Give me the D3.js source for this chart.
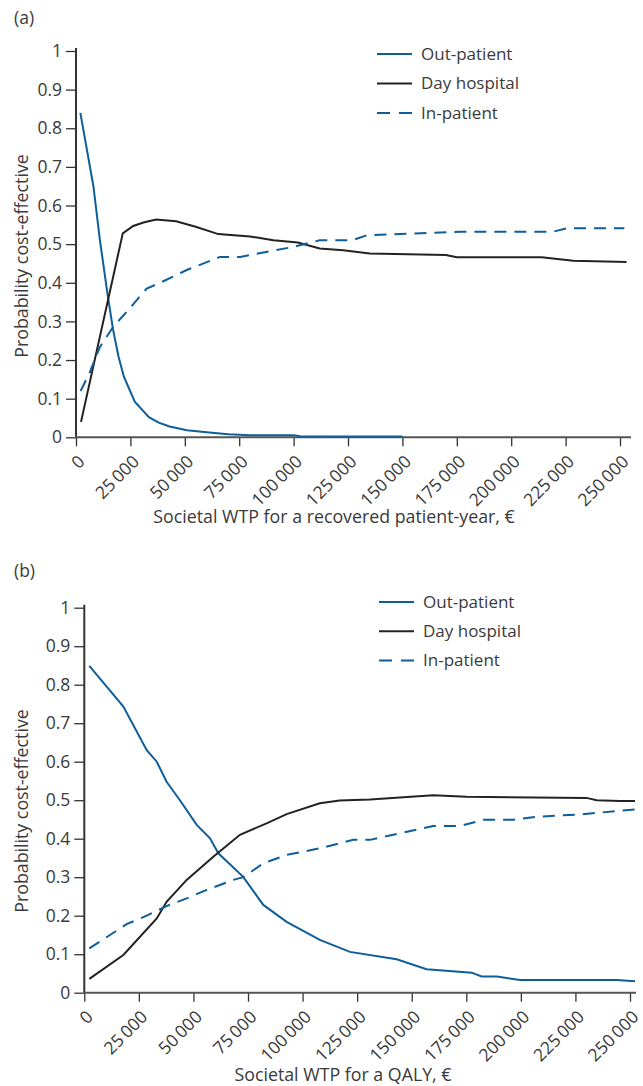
<!DOCTYPE html>
<html><head><meta charset="utf-8">
<script src="https://cdn.jsdelivr.net/npm/d3@7"></script>
<style>
body{margin:0;background:#fff;}
svg{display:block;font-family:"Open Sans",sans-serif;}
</style></head>
<body><svg id="chart" width="643" height="1086"></svg>
<script>
// ---- data ----
const seriesNames = ["Out-patient", "Day hospital", "In-patient"];
const xTicks = [0, 25000, 50000, 75000, 100000, 125000, 150000, 175000, 200000, 225000, 250000];
const yTicks = [0, 0.1, 0.2, 0.3, 0.4, 0.5, 0.6, 0.7, 0.8, 0.9, 1];
const xTitleA = "Societal WTP for a recovered patient-year, €";
const xTitleB = "Societal WTP for a QALY, €";
const yTitle = "Probability cost-effective";

// panel (a): [WTP €, probability]
const outpatientA = [[2000,0.84],[8000,0.65],[11000,0.51],[14500,0.37],[17000,0.28],[19500,0.21],[22000,0.157],[27000,0.092],[33500,0.052],[38000,0.038],[43000,0.028],[51000,0.018],[60000,0.013],[70000,0.008],[80000,0.005],[100000,0.005],[103000,0.003],[150000,0.002]];
const dayHospitalA = [[2300,0.04],[21500,0.528],[26300,0.547],[31000,0.556],[36800,0.564],[46000,0.559],[55000,0.545],[65400,0.526],[80000,0.52],[90700,0.51],[102000,0.504],[112000,0.489],[122800,0.484],[135000,0.476],[170000,0.472],[175000,0.466],[214000,0.466],[228500,0.457],[253000,0.454]];
const inpatientA = [[2100,0.12],[6100,0.165],[11000,0.234],[17100,0.286],[23300,0.325],[32500,0.385],[38600,0.40],[50900,0.433],[66200,0.467],[75400,0.467],[100000,0.493],[112000,0.51],[127000,0.51],[133600,0.523],[176500,0.532],[219000,0.532],[225500,0.541],[252000,0.541]];

// panel (b)
const outpatientB = [[2300,0.849],[17900,0.743],[28600,0.63],[33200,0.60],[37700,0.548],[43800,0.50],[51500,0.436],[57600,0.401],[61400,0.362],[72800,0.301],[82000,0.228],[92700,0.184],[107900,0.137],[121700,0.106],[143100,0.087],[156800,0.061],[177500,0.052],[182000,0.042],[189000,0.042],[199600,0.033],[243900,0.033],[252300,0.030]];
const dayHospitalB = [[2300,0.036],[17900,0.098],[33200,0.193],[37700,0.236],[46900,0.293],[59100,0.353],[71300,0.41],[83500,0.44],[92700,0.464],[107900,0.492],[117000,0.499],[130900,0.502],[159900,0.513],[175100,0.509],[230100,0.506],[234700,0.50],[245400,0.498],[252300,0.498]];
const inpatientB = [[2300,0.115],[19400,0.178],[28600,0.20],[37700,0.225],[46900,0.245],[56100,0.267],[68300,0.293],[72800,0.30],[82000,0.336],[92700,0.358],[107900,0.375],[123200,0.397],[130900,0.397],[159900,0.433],[172100,0.433],[182800,0.449],[196500,0.449],[207200,0.457],[227100,0.463],[252300,0.476]];

// ---- styles ----
const BLUE = "#0d5e9b", BLACK = "#222", TEXT = "#3a3a3a";
const styles = [
  {color: BLUE, dash: null},
  {color: BLACK, dash: null},
  {color: BLUE, dash: "12,8"}
];

const svg = d3.select("#chart");
const fmtX = d => d === 0 ? "0" : d3.format(",")(d).replace(/,/g, "\u2009");
const fmtY = d => d === 0 ? "0" : d === 1 ? "1" : d3.format(".1f")(d);

function drawPanel(p) {
  const g = svg.append("g");
  const x = d3.scaleLinear().domain([0, 250000]).range([p.x0, p.x1]);
  const y = d3.scaleLinear().domain([0, 1]).range([p.y0, p.y1]);

  g.append("text").attr("x", 14).attr("y", p.labelY).attr("fill", TEXT)
    .attr("font-size", 17.5).text(p.label);

  // y axis
  const ya = g.append("g").attr("transform", `translate(${p.x0},0)`)
    .call(d3.axisLeft(y).tickValues(yTicks).tickFormat(fmtY).tickSize(10).tickPadding(4));
  ya.select(".domain").remove();
  ya.selectAll("line").attr("stroke", "#333").attr("stroke-width", 1.3);
  ya.selectAll("text").attr("font-size", 17.5).attr("fill", TEXT).attr("font-family", "'Open Sans',sans-serif");

  // x axis
  const xa = g.append("g").attr("transform", `translate(0,${p.y0})`)
    .call(d3.axisBottom(x).tickValues(xTicks).tickFormat(fmtX).tickSize(9).tickPadding(2));
  xa.select(".domain").remove();
  xa.selectAll("line").attr("stroke", "#333").attr("stroke-width", 1.3);
  xa.selectAll("text").attr("font-size", 17.5).attr("fill", TEXT).attr("font-family", "'Open Sans',sans-serif")
    .attr("text-anchor", "end").attr("x", 0).attr("y", 0).attr("dy", "0.35em")
    .attr("transform", "translate(5,21) rotate(-45)");

  // axis lines
  g.append("line").attr("x1", p.x0).attr("x2", p.x0).attr("y1", p.y0).attr("y2", p.y1 - 3)
    .attr("stroke", "#333").attr("stroke-width", 2);
  g.append("line").attr("x1", p.x0 - 1).attr("x2", p.xEnd).attr("y1", p.y0).attr("y2", p.y0)
    .attr("stroke", "#555").attr("stroke-width", 2);

  // titles
  g.append("text").attr("x", p.xTitleX).attr("y", p.xTitleY).attr("text-anchor", "middle")
    .attr("font-size", 17.8).attr("fill", TEXT).text(p.xTitle);
  g.append("text").attr("transform", `translate(${p.yTitleX},${p.yTitleY}) rotate(-90)`)
    .attr("text-anchor", "middle").attr("font-size", 17.8).attr("fill", TEXT).text(yTitle);

  // lines
  const line = d3.line().x(d => x(d[0])).y(d => y(d[1]));
  p.series.forEach((s, i) => {
    g.append("path").datum(s).attr("d", line).attr("fill", "none")
      .attr("stroke", styles[i].color).attr("stroke-width", 2)
      .attr("stroke-dasharray", styles[i].dash);
  });

  // legend
  seriesNames.forEach((n, i) => {
    const ly = p.legendY + i * p.legendStep;
    g.append("line").attr("x1", p.legendX).attr("x2", p.legendX + 35).attr("y1", ly).attr("y2", ly)
      .attr("stroke", styles[i].color).attr("stroke-width", 2)
      .attr("stroke-dasharray", i === 2 ? "13,9" : null);
    g.append("text").attr("x", p.legendX + 44).attr("y", ly).attr("dy", "0.35em")
      .attr("font-size", 17).attr("fill", TEXT).text(n);
  });
}

drawPanel({label: "(a)", labelY: 24, x0: 76, x1: 620, xEnd: 631, y0: 437.3, y1: 51,
  xTitle: xTitleA, xTitleX: 334, xTitleY: 523, yTitleX: 28, yTitleY: 256,
  legendX: 377, legendY: 54, legendStep: 29.5,
  series: [outpatientA, dayHospitalA, inpatientA]});

drawPanel({label: "(b)", labelY: 577, x0: 84.3, x1: 630, xEnd: 636, y0: 992.7, y1: 607.7,
  xTitle: xTitleB, xTitleX: 343, xTitleY: 1081, yTitleX: 28, yTitleY: 811,
  legendX: 379, legendY: 602, legendStep: 29.2,
  series: [outpatientB, dayHospitalB, inpatientB]});
</script></body></html>
